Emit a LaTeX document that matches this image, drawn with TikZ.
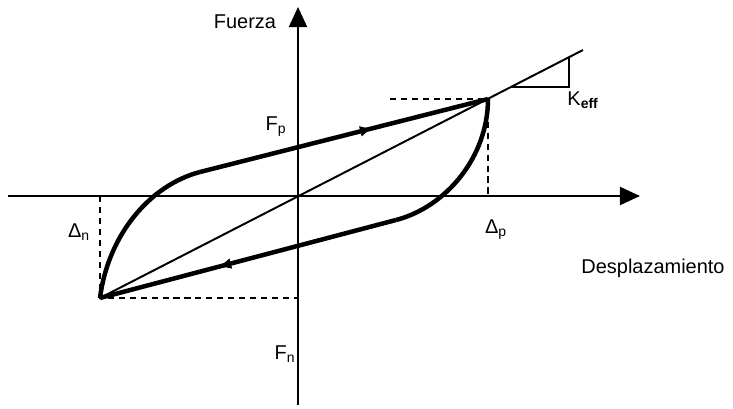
\documentclass[tikz,border=0pt]{standalone}
\usepackage{fontspec}
\setmainfont{Liberation Sans}
\usepackage{tikz}
\usetikzlibrary{arrows.meta, calc, decorations.markings}

\tikzset{
  axis/.style={line width=1.4pt, -{Triangle[length=0.5cm, width=0.45cm]}},
  loopline/.style={line width=3.2pt},
  guide/.style={line width=1.4pt, dash pattern=on 4.3pt off 3.5pt},
  midarrow/.style={postaction={decorate}, decoration={markings,
      mark=at position #1 with {\arrow{Latex[length=0.32cm, width=0.28cm]}}}},
  lbl/.style={font=\fontsize{14.2}{17}\selectfont, inner sep=0pt},
}

\begin{document}
\begin{tikzpicture}[x=0.025cm, y=-0.025cm]
  \useasboundingbox (0,0) rectangle (733,409);

  % Axes
  \coordinate (O) at (298, 196);
  \coordinate (xl) at (8, 196);
  \coordinate (xr) at (640, 196);
  \coordinate (yb) at (298, 405);
  \coordinate (yt) at (298, 7);
  \draw[axis] (xl) -- (xr);
  \draw[axis] (yb) -- (yt);
  \node[lbl] (fuerza) at (245, 22) {Fuerza};
  \node[lbl] (despl) at (653, 268) {Desplazamiento};

  % Peak points
  \coordinate (P) at (488, 99);
  \coordinate (N) at (100, 298);
  \coordinate (Px) at (488, 196);
  \coordinate (Py) at (390, 99);
  \coordinate (Nx) at (100, 196);
  \coordinate (Ny) at (298, 298);

  % Dashed guides
  \draw[guide] (Py) -- (P) -- (Px);
  \draw[guide] (Nx) -- (N) -- (Ny);
  \node[lbl] (fp) at (276, 127) {F\textsubscript{p}};
  \node[lbl] (dp) at (496, 230) {Δ\textsubscript{p}};
  \node[lbl] (dn) at (79, 232) {Δ\textsubscript{n}};
  \node[lbl] (fn) at (285, 354) {F\textsubscript{n}};

  % Effective stiffness line
  \coordinate (E) at (583, 50);
  \coordinate (k1) at (511, 87);
  \coordinate (k2) at (569, 87);
  \coordinate (k3) at (569, 57);
  \draw[line width=1.4pt] (N) -- (E);
  \draw[line width=1.2pt] (k1) -- (k2) -- (k3);
  \node[lbl] (keff) at (583, 100) {K\textsubscript{\textbf{eff}}};

  % Hysteresis loop
  \coordinate (A) at (200, 172);
  \coordinate (B) at (396, 220);
  \draw[loopline] (N) .. controls (108, 235) and (150, 185) .. (A);
  \draw[loopline, midarrow=0.6] (A) -- (P);
  \draw[loopline] (P) .. controls (488, 157) and (446, 207) .. (B);
  \draw[loopline, midarrow=0.6] (B) -- (N);
\end{tikzpicture}
\end{document}
